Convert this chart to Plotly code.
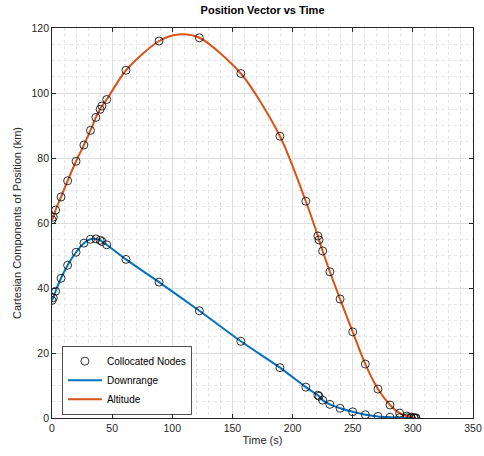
import plotly.graph_objects as go

# Node times (s)
t_nodes = [0, 1, 3, 7.5, 13, 20, 26.5, 32, 36.5, 40, 41.5, 45.5, 61.5, 89, 122.5, 157,
           189.5, 211, 221, 222, 225, 231, 239.5, 250, 260.5, 271, 281, 289, 295, 298.5, 301, 302.5]
# Altitude (km)
alt_nodes = [61, 61.8, 64, 68, 73, 79, 84, 88.5, 92.5, 95, 96, 98, 107, 116, 117, 106,
             86.7, 66.7, 56, 54.8, 51.4, 45, 36.6, 26.5, 16.6, 8.9, 4, 1.5, 0.6, 0.3, 0.1, 0]
# Downrange (km)
dr_nodes = [36.2, 37, 39, 43, 47, 51, 53.8, 55, 55.1, 54.7, 54.3, 53.3, 48.8, 41.8, 33.0, 23.6,
            15.5, 9.5, 7.0, 6.7, 5.5, 4.2, 3.0, 1.9, 1.0, 0.5, 0.25, 0.1, 0.05, 0.02, 0.0, 0.0]

# Extra curve reading point for the smooth altitude peak
t_alt_curve = t_nodes[:14] + [105] + t_nodes[14:]
alt_curve = alt_nodes[:14] + [118] + alt_nodes[14:]

BLUE = "#0072BD"
ORANGE = "#D95319"
AX = "#262626"
FONT = "Liberation Sans, Arial, sans-serif"

fig = go.Figure()
fig.add_trace(go.Scatter(x=t_nodes, y=dr_nodes, mode="lines", name="Downrange",
                         line=dict(color=BLUE, width=2, shape="spline", smoothing=0.8),
                         legendrank=2))
fig.add_trace(go.Scatter(x=t_alt_curve, y=alt_curve, mode="lines", name="Altitude",
                         line=dict(color=ORANGE, width=2, shape="spline", smoothing=0.8),
                         legendrank=3))
fig.add_trace(go.Scatter(x=t_nodes + [None] + t_nodes, y=alt_nodes + [None] + dr_nodes,
                         mode="markers", name="Collocated Nodes",
                         marker=dict(symbol="circle-open", size=8, color="black",
                                     line=dict(width=0.8, color="black")),
                         legendrank=1))

axis_common = dict(
    showline=True, linecolor=AX, linewidth=0.8, mirror="allticks",
    ticks="inside", ticklen=4, tickcolor=AX, tickwidth=0.8,
    showgrid=True, gridcolor="#dedede", gridwidth=0.8,
    zeroline=False, automargin=False,
    tickfont=dict(family=FONT, size=10.5, color=AX),
)

fig.update_xaxes(range=[0, 350], dtick=50, tick0=0,
                 title=dict(text="Time (s)", standoff=3,
                            font=dict(family=FONT, size=11, color=AX)),
                 minor=dict(dtick=10, showgrid=True, griddash="dot", gridcolor="#e4e4e4", gridwidth=0.6),
                 **axis_common)
fig.update_yaxes(range=[0, 120], dtick=20, tick0=0,
                 title=dict(text="Cartesian Components of Position (km)", standoff=7,
                            font=dict(family=FONT, size=11, color=AX)),
                 minor=dict(dtick=5, showgrid=True, griddash="dot", gridcolor="#e4e4e4", gridwidth=0.6),
                 **axis_common)

fig.update_layout(
    width=484, height=456,
    margin=dict(l=52, r=11, t=28, b=38),
    paper_bgcolor="white", plot_bgcolor="white",
    title=dict(text="<b>Position Vector vs Time</b>", x=0.5425, xanchor="center",
               y=0.986, yanchor="top",
               font=dict(family=FONT, size=11, color="black")),
    legend=dict(x=0.024, y=0.008, xanchor="left", yanchor="bottom",
                bgcolor="white", bordercolor=AX, borderwidth=0.8,
                font=dict(family=FONT, size=10, color="black"),
                itemwidth=34, tracegroupgap=0),
    showlegend=True,
)

fig.write_html("out.html")
